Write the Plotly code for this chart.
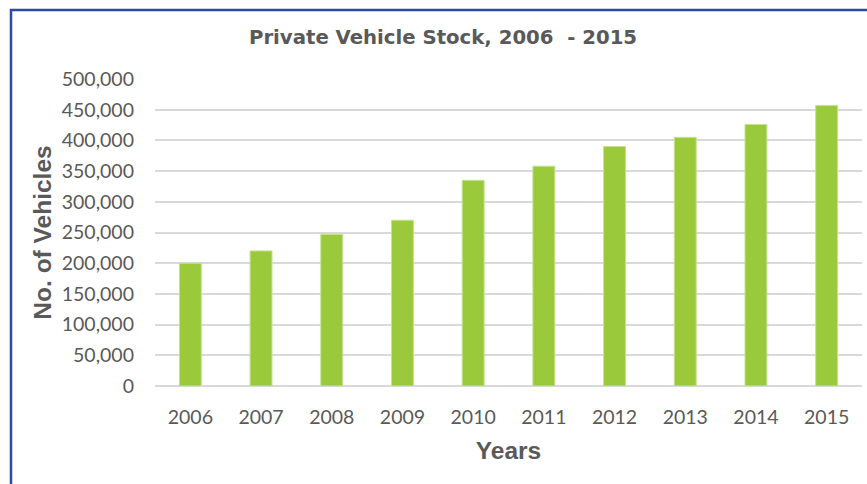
import plotly.graph_objects as go

years = ["2006", "2007", "2008", "2009", "2010", "2011", "2012", "2013", "2014", "2015"]
vehicles = [200000, 220000, 247000, 270000, 335000, 358000, 390000, 405000, 426000, 457000]
y_ticks = [0, 50000, 100000, 150000, 200000, 250000, 300000, 350000, 400000, 450000, 500000]
y_tick_labels = ["0", "50,000", "100,000", "150,000", "200,000", "250,000",
                 "300,000", "350,000", "400,000", "450,000", "500,000"]

W, H = 867, 484
L, R, T, B = 155, 5, 79, 98
pw, ph = W - L - R, H - T - B

fig = go.Figure(go.Bar(
    x=years, y=vehicles,
    marker=dict(color="#9ACA3C", line=dict(color="#C6E28E", width=1)),
))

fig.update_layout(
    width=W, height=H,
    margin=dict(l=L, r=R, t=T, b=B),
    paper_bgcolor="white", plot_bgcolor="white",
    bargap=0.69,
    showlegend=False,
    title=dict(text="<b>Private Vehicle Stock, 2006  - 2015</b>",
               x=443 / W, xref="container", xanchor="center",
               y=1 - 37 / H, yref="container", yanchor="middle",
               font=dict(family="DejaVu Sans, sans-serif", size=19.7, color="#595959")),
    font=dict(family="Lato, Liberation Sans, sans-serif", color="#595959"),
)

fig.update_xaxes(
    showgrid=False, showline=False, zeroline=False,
    tickfont=dict(size=19.5, color="#595959"),
    ticklabelstandoff=17,
    title=dict(text="<b>Years</b>", font=dict(family="Liberation Sans, Arial, sans-serif", size=24.5, color="#595959"), standoff=15),
)
fig.update_yaxes(
    range=[0, 500000],
    tickvals=y_ticks, ticktext=y_tick_labels,
    showgrid=True, gridcolor="#D9D9D9", gridwidth=1.5,
    zeroline=True, zerolinecolor="#D9D9D9", zerolinewidth=1.5,
    showline=False,
    tickfont=dict(size=19.5, color="#595959"),
    ticklabelstandoff=20,
    title=dict(text="<b>No. of Vehicles</b>", font=dict(family="Liberation Sans, Arial, sans-serif", size=24.5, color="#595959"), standoff=3),
)

# blue border frame around the chart (extends past right/bottom edges)
fig.add_shape(type="rect", xref="paper", yref="paper",
              x0=(11 - L) / pw, x1=(W + 20 - L) / pw,
              y0=-(B + 20) / ph, y1=(H - B - 10) / ph,
              line=dict(color="#2E4A9A", width=2.5), fillcolor="rgba(0,0,0,0)", layer="above")

fig.write_html("out.html", config={"displayModeBar": False},
               post_script="document.body.style.margin='0';document.body.style.overflow='hidden';")
